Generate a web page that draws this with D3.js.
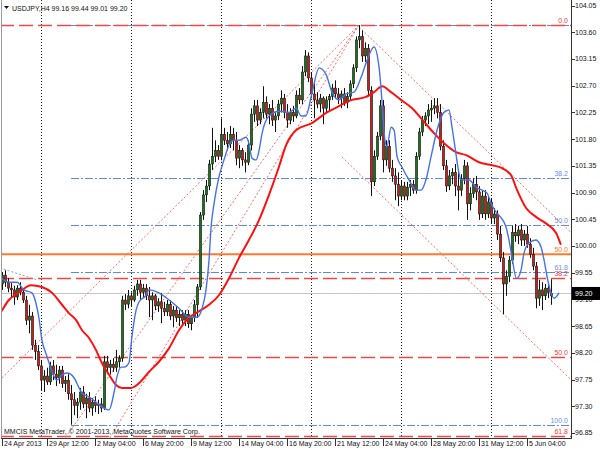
<!DOCTYPE html>
<html><head><meta charset="utf-8">
<script src="https://cdn.jsdelivr.net/npm/d3@7"></script>
<style>
html,body{margin:0;padding:0;background:#fff;}
svg{display:block;font-family:"Liberation Sans",Arial,sans-serif;}
</style></head><body>
<svg id="c" width="600" height="450"></svg>
<script>
// ---------------- DATA ----------------
const symbolTitle = "USDJPY,H4 99.16 99.44 99.01 99.20";
const copyright = "MMCIS MetaTrader, \u00A9 2001-2013, MetaQuotes Software Corp.";

// H4 candles [open, high, low, close]
const ohlc = [
[99.36,99.56,99.26,99.51],[99.51,99.59,99.31,99.39],[99.39,99.46,99.22,99.29],[99.29,99.38,99.14,99.26],
[99.26,99.33,99.01,99.14],[99.14,99.34,99.09,99.29],[99.29,99.39,99.17,99.22],[99.22,99.29,99.04,99.09],
[99.09,99.16,98.67,98.75],[98.75,99.01,98.53,98.82],[98.82,98.89,98.25,98.33],[98.33,98.42,98.08,98.22],
[98.22,98.33,97.91,97.98],[97.98,98.08,97.57,97.74],[97.74,97.91,97.54,97.81],[97.81,97.95,97.66,97.71],
[97.71,98.05,97.66,97.98],[97.98,98.08,97.74,97.84],[97.84,98.00,97.64,97.78],[97.78,97.98,97.68,97.91],
[97.91,97.98,97.61,97.68],[97.68,97.81,97.54,97.74],[97.74,97.84,97.41,97.51],[97.51,97.66,96.99,97.41],
[97.41,97.54,97.15,97.31],[97.31,97.44,97.10,97.37],[97.37,97.61,97.24,97.54],[97.54,97.64,97.27,97.34],
[97.34,97.51,97.10,97.44],[97.44,97.54,97.20,97.27],[97.27,97.44,97.14,97.37],[97.37,97.47,97.20,97.31],
[97.31,97.41,97.17,97.34],[97.34,97.44,97.20,97.27],[97.27,98.15,97.24,98.05],[98.05,98.15,97.84,97.95],
[97.95,98.08,97.84,98.01],[98.01,98.11,97.88,97.95],[97.95,98.25,97.88,98.05],[98.05,98.16,97.95,98.11],
[98.11,99.16,98.05,99.09],[99.09,99.19,98.92,99.02],[99.02,99.26,98.95,99.16],[99.16,99.22,98.99,99.09],
[99.09,99.33,99.06,99.26],[99.26,99.43,99.16,99.36],[99.36,99.43,99.09,99.22],[99.22,99.36,99.12,99.29],
[99.29,99.36,99.09,99.16],[99.16,99.31,98.80,99.09],[99.09,99.22,98.75,99.16],[99.16,99.19,98.92,98.99],
[98.99,99.12,98.89,99.06],[99.06,99.21,98.70,98.95],[98.95,99.06,98.82,98.89],[98.89,99.09,98.82,99.02],
[99.02,99.09,98.75,98.82],[98.82,98.99,98.63,98.92],[98.92,98.99,98.72,98.79],[98.79,98.92,98.65,98.85],
[98.85,98.92,98.69,98.75],[98.75,98.92,98.65,98.85],[98.85,98.92,98.62,98.69],[98.69,98.82,98.58,98.79],
[98.79,99.09,98.72,99.01],[99.01,99.36,98.79,99.31],[99.31,100.57,99.26,100.52],[100.52,100.94,100.44,100.86],
[100.86,101.11,100.74,101.01],[101.01,101.45,100.94,101.38],[101.38,101.99,101.28,101.51],[101.51,101.78,101.41,101.61],
[101.61,101.70,101.45,101.51],[101.51,102.15,101.45,101.88],[101.88,101.99,101.70,101.78],[101.78,101.92,101.61,101.72],
[101.72,102.02,101.65,101.88],[101.88,101.99,101.61,101.78],[101.78,101.92,101.36,101.48],[101.48,101.70,101.31,101.61],
[101.61,101.65,101.35,101.45],[101.45,101.58,101.24,101.41],[101.41,101.78,101.36,101.70],[101.70,102.32,101.61,102.22],
[102.22,102.46,102.09,102.36],[102.36,102.46,102.02,102.12],[102.12,102.32,102.05,102.25],[102.25,102.69,102.15,102.42],
[102.42,102.52,102.15,102.22],[102.22,102.39,102.05,102.32],[102.32,102.46,102.02,102.12],[102.12,102.25,101.92,102.19],
[102.19,102.46,102.12,102.39],[102.39,102.62,102.25,102.49],[102.49,102.56,102.15,102.25],[102.25,102.39,101.99,102.12],
[102.12,102.32,102.05,102.25],[102.25,102.36,102.09,102.19],[102.19,102.62,102.15,102.54],[102.54,102.66,102.39,102.46],
[102.46,103.03,102.39,102.93],[102.93,103.30,102.86,103.20],[103.20,103.26,102.76,102.83],[102.83,102.93,102.49,102.56],
[102.56,102.76,102.15,102.46],[102.46,102.59,102.32,102.39],[102.39,102.56,102.25,102.49],[102.49,102.52,102.05,102.32],
[102.32,102.52,102.25,102.46],[102.46,102.56,102.29,102.52],[102.52,102.73,102.46,102.66],[102.66,102.79,102.49,102.56],
[102.56,102.66,102.39,102.49],[102.49,102.62,102.32,102.56],[102.56,102.66,102.36,102.42],[102.42,102.59,102.32,102.52],
[102.52,102.79,102.46,102.73],[102.73,103.06,102.66,103.00],[103.00,103.53,102.93,103.47],[103.47,103.72,103.33,103.53],
[103.53,103.63,103.10,103.20],[103.20,103.43,103.10,103.33],[103.33,103.40,102.52,102.62],[102.62,102.69,100.84,101.08],
[101.08,101.61,101.01,101.51],[101.51,101.92,101.45,101.85],[101.85,102.46,101.78,102.36],[102.36,102.46,101.24,101.45],
[101.45,101.78,101.35,101.68],[101.68,101.78,101.24,101.31],[101.31,101.45,101.08,101.18],[101.18,101.31,100.77,101.04],
[101.04,101.24,100.67,100.84],[100.84,101.11,100.77,101.01],[101.01,101.08,100.77,100.84],[100.84,101.08,100.77,100.99],
[100.99,101.11,100.84,101.04],[101.04,101.11,100.88,100.94],[100.94,101.58,100.88,101.51],[101.51,101.99,101.45,101.92],
[101.92,102.19,101.85,102.12],[102.12,102.25,102.02,102.19],[102.19,102.39,102.05,102.29],[102.29,102.46,102.09,102.32],
[102.32,102.49,102.22,102.36],[102.36,102.49,102.15,102.25],[102.25,102.39,101.61,101.68],[101.68,101.78,101.28,101.35],
[101.35,101.45,100.91,101.01],[101.01,101.28,100.94,101.18],[101.18,101.31,101.04,101.24],[101.24,101.38,100.84,101.01],
[101.01,101.28,100.60,100.94],[100.94,101.21,100.84,101.14],[101.14,101.45,101.04,101.35],[101.35,101.41,100.44,100.71],
[100.71,100.99,100.60,100.88],[100.88,101.14,100.81,101.04],[101.04,101.18,100.77,100.91],[100.91,101.01,100.44,100.54],
[100.54,100.94,100.47,100.84],[100.84,100.94,100.44,100.54],[100.54,100.84,100.47,100.74],[100.74,100.81,100.37,100.47],
[100.47,100.64,100.37,100.54],[100.54,100.60,100.10,100.20],[100.20,100.34,99.73,99.80],[99.80,99.90,98.85,99.36],
[99.36,99.59,99.16,99.49],[99.49,99.83,99.39,99.76],[99.76,100.34,99.70,100.23],[100.23,100.37,100.07,100.17],
[100.17,100.34,100.03,100.27],[100.27,100.37,100.00,100.10],[100.10,100.27,100.00,100.20],[100.20,100.34,99.97,100.03],
[100.03,100.13,99.80,99.86],[99.86,99.97,99.59,99.66],[99.66,99.73,98.95,99.12],[99.12,99.43,98.99,99.26],
[99.26,99.39,98.92,99.16],[99.16,99.36,99.09,99.29],[99.29,99.36,99.12,99.22],[99.16,99.44,99.01,99.20]
];

// moving averages: [bar, price]
const blueMA = [[-0.3,99.46],[2.3,99.39],[5,99.39],[7.3,99.26],[10,99.21],[11.3,99.04],[12.3,98.79],[13.3,98.42],[14.7,98.18],[15.7,98.03],[16.7,97.88],[18.3,97.74],[20,97.83],[21.7,97.86],[24,97.78],[25.7,97.61],[26.7,97.52],[29,97.46],[31.3,97.37],[33.3,97.29],[35.7,97.24],[37.3,97.52],[38.3,97.79],[39.7,97.96],[40.7,97.96],[42.3,98.03],[43.3,98.47],[44.7,98.92],[45.7,99.06],[48,99.17],[49,99.26],[52.3,99.21],[55.7,99.09],[59,98.95],[62.3,98.80],[65,98.80],[66.7,98.95],[68,99.26],[69,99.76],[69.7,100.32],[70.7,100.72],[72.3,101.16],[74,101.45],[75.7,101.70],[77.3,101.78],[79,101.78],[81.3,101.83],[82.3,101.73],[83.3,101.48],[84.7,101.45],[85.7,101.61],[86.7,101.90],[89,102.19],[92.3,102.27],[95.7,102.25],[98,102.32],[99.7,102.19],[101.3,102.19],[103.3,102.57],[105.7,103.00],[108,102.89],[110,102.59],[112.3,102.46],[114.7,102.56],[117.3,102.59],[119.7,102.84],[121.7,103.13],[124,103.35],[125.7,103.00],[126.7,102.41],[127.3,101.95],[128.3,101.67],[129.7,102.00],[130.7,101.95],[131.7,101.50],[133.3,101.33],[135.7,101.11],[138,100.94],[139.7,100.94],[141.3,101.11],[143,101.50],[145,101.95],[147.3,102.25],[149,102.29],[150,102.00],[151.3,101.56],[152.3,101.23],[153.3,101.11],[155.7,101.11],[158,100.99],[160,100.94],[161.7,100.89],[163,100.72],[164.7,100.57],[166.3,100.48],[168,100.32],[169,100.10],[170,99.81],[171.5,99.45],[173,99.59],[174,99.88],[175.7,100.05],[178,100.10],[179.7,99.98],[180.7,99.76],[181.7,99.48],[183,99.21],[184,99.12],[185.7,99.21]];
const redMA = [[-0.3,98.89],[2.3,99.09],[5.7,99.22],[9.7,99.34],[13.3,99.31],[16.7,99.21],[20,99.01],[22.3,98.87],[24.7,98.75],[26.7,98.58],[29,98.45],[31.3,98.25],[33.3,98.03],[35.7,97.83],[38,97.66],[40,97.61],[43,97.61],[45.7,97.69],[49,97.88],[52.3,98.05],[55.7,98.28],[59,98.58],[62.3,98.79],[65.7,98.90],[69,99.01],[72.3,99.17],[75.7,99.46],[79,99.80],[82.3,100.10],[85.7,100.44],[89,100.86],[92.3,101.33],[94.7,101.70],[98,101.95],[103.3,102.07],[108,102.24],[111.7,102.34],[116.7,102.46],[121.3,102.51],[124,102.59],[126.7,102.69],[129.7,102.59],[133,102.46],[136.7,102.32],[140.7,102.09],[144,101.90],[148,101.70],[151.3,101.58],[154.7,101.53],[159,101.41],[163.3,101.36],[166.7,101.31],[169.7,101.19],[171.7,100.94],[174.7,100.64],[178,100.49],[181.3,100.38],[184.7,100.22],[186.3,100.02]];

// axes
const priceTicks = [104.05,103.60,103.15,102.70,102.25,101.80,101.35,100.90,100.45,100.00,99.55,99.10,98.65,98.20,97.75,97.30,96.85];
const timeLabels = ["24 Apr 2013","29 Apr 12:00","2 May 04:00","6 May 20:00","9 May 12:00","14 May 04:00","16 May 20:00","21 May 12:00","24 May 04:00","28 May 20:00","31 May 12:00","5 Jun 04:00"];
const timeLabelBars = [0,15,31,47,63,79,95,111,127,143,159,175];
const gridBars = [13,43,73,103,133,163];

// fibonacci objects
const redFiboLevels = ["0.0","38.2","50.0","61.8"];
const redFiboPrices = [103.72,99.46,98.13,96.80];
const blueFiboLevels = ["0.0","38.2","50.0","61.8","100.0"];
const blueFiboPrices = [103.72,101.15,100.35,99.56,96.99];
const blueFiboStartBar = 23;
const orangeLevels = ["50.0"];
const orangePrices = [99.86];
const bidPrice = 99.20;

// trend / fan lines: [[bar, price],[bar, price]]
const fanLines = [
  [[119,103.72],[-2,97.68]],
  [[119,103.72],[18.1,96.56]],
  [[119,103.72],[33.5,96.56]]
];
const channelLines = [
  [[119,103.69],[190,100.21]],
  [[113.3,101.50],[190,97.73]]
];
const greyLines = [
  [[-0.7,99.63],[11.7,99.43]],
  [[-0.7,98.89],[2,99.04]]
];

// ---------------- DRAW ----------------
const W = 600, H = 450, L = 0, R = 571, T = 0, B = 438;
const FS = 7;
const x = d3.scaleLinear().domain([0, 183]).range([2, 551]);
const y = d3.scaleLinear().domain([96.85, 104.05]).range([433, 5.5]);

const svg = d3.select("#c");
svg.append("rect").attr("width", W).attr("height", H).attr("fill", "#fff");
svg.append("defs").append("clipPath").attr("id", "plot")
  .append("rect").attr("x", L + 2).attr("y", T).attr("width", R - L - 2).attr("height", B - T);

const g = svg.append("g").attr("clip-path", "url(#plot)");
const py = p => Math.round(y(p)) + 0.5;

// vertical grid
g.selectAll("line.grid").data(gridBars).join("line").attr("class", "grid")
  .attr("x1", d => Math.round(x(d)) + 0.5).attr("x2", d => Math.round(x(d)) + 0.5)
  .attr("y1", T).attr("y2", B)
  .attr("stroke", "#222").attr("stroke-width", 1).attr("stroke-dasharray", "1,2");

// bid line
g.append("line").attr("x1", L).attr("x2", R).attr("y1", py(bidPrice)).attr("y2", py(bidPrice))
  .attr("stroke", "#c6c6c6").attr("stroke-width", 1);

// orange level
g.selectAll("line.or").data(orangePrices).join("line").attr("class", "or")
  .attr("x1", L).attr("x2", R).attr("y1", d => y(d)).attr("y2", d => y(d))
  .attr("stroke", "#ff7a2e").attr("stroke-width", 2);

// blue fibo (dash-dot)
g.selectAll("line.bf").data(blueFiboPrices).join("line").attr("class", "bf")
  .attr("x1", x(blueFiboStartBar)).attr("x2", R).attr("y1", d => py(d)).attr("y2", d => py(d))
  .attr("stroke", "#5f86ee").attr("stroke-width", 1.1).attr("stroke-dasharray", "8,2,2,2");

// red fibo (dashed)
g.selectAll("line.rf").data(redFiboPrices).join("line").attr("class", "rf")
  .attr("x1", L).attr("x2", R).attr("y1", d => py(d)).attr("y2", d => py(d))
  .attr("stroke", "#f04848").attr("stroke-width", 1.4).attr("stroke-dasharray", "14,5");

// dotted trend lines
const seg = d => `M${x(d[0][0])},${y(d[0][1])}L${x(d[1][0])},${y(d[1][1])}`;
g.selectAll("path.fan").data(fanLines.concat(channelLines)).join("path").attr("class", "fan")
  .attr("d", seg).attr("fill", "none").attr("stroke", "#f26d6d").attr("stroke-width", 1)
  .attr("stroke-dasharray", "2,2");
g.selectAll("path.grey").data(greyLines).join("path").attr("class", "grey")
  .attr("d", seg).attr("fill", "none").attr("stroke", "#8fa5a5").attr("stroke-width", 1)
  .attr("stroke-dasharray", "2,2");

// candles
const cg = g.append("g");
cg.selectAll("line.wick").data(ohlc).join("line").attr("class", "wick")
  .attr("x1", (d, i) => x(i) + 0.5).attr("x2", (d, i) => x(i) + 0.5)
  .attr("y1", d => y(d[1])).attr("y2", d => y(d[2]))
  .attr("stroke", "#111").attr("stroke-width", 1);
cg.selectAll("rect.body").data(ohlc).join("rect").attr("class", "body")
  .attr("x", (d, i) => x(i) - 0.7).attr("width", 2.4)
  .attr("y", d => y(Math.max(d[0], d[3])))
  .attr("height", d => Math.max(1, Math.abs(y(d[0]) - y(d[3]))))
  .attr("fill", d => d[3] >= d[0] ? "#1f6f1f" : "#c0231d")
  .attr("stroke", "#111").attr("stroke-width", 0.5);

// moving averages
const line = d3.line().x(d => x(d[0])).y(d => y(d[1])).curve(d3.curveMonotoneX);
g.append("path").datum(redMA).attr("d", line).attr("fill", "none")
  .attr("stroke", "#ff1010").attr("stroke-width", 2);
g.append("path").datum(blueMA).attr("d", line).attr("fill", "none")
  .attr("stroke", "#4472e8").attr("stroke-width", 1.4);

// level labels
const lab = (levels, prices, color, skip) => {
  svg.append("g").selectAll("text").data(levels.map((l, i) => [l, prices[i]]).filter(d => !skip.includes(d[0])))
    .join("text").attr("x", 568).attr("y", d => y(d[1]) - 2)
    .attr("text-anchor", "end").attr("font-size", FS).attr("fill", color).text(d => d[0]);
};
lab(blueFiboLevels, blueFiboPrices, "#6b8ef2", ["0.0"]);
lab(orangeLevels, orangePrices, "#ff7a2e", []);
lab(redFiboLevels, redFiboPrices, "#f43c3c", []);

// frame
svg.append("line").attr("x1", 1.5).attr("x2", 1.5).attr("y1", 0).attr("y2", B).attr("stroke", "#9a9a9a");
svg.append("line").attr("x1", R + 0.5).attr("x2", R + 0.5).attr("y1", 0).attr("y2", B + 1).attr("stroke", "#333");
svg.append("line").attr("x1", 1).attr("x2", R + 1).attr("y1", B + 0.5).attr("y2", B + 0.5).attr("stroke", "#333");

// right price axis
const ya = svg.append("g");
ya.selectAll("line").data(priceTicks).join("line")
  .attr("x1", R).attr("x2", R + 4).attr("y1", d => py(d)).attr("y2", d => py(d)).attr("stroke", "#333");
ya.selectAll("text").data(priceTicks).join("text")
  .attr("x", R + 4).attr("y", d => y(d)).attr("dy", "0.35em")
  .attr("font-size", FS).attr("fill", "#111").text(d => d.toFixed(2));

// current price box
svg.append("rect").attr("x", R + 1).attr("y", y(bidPrice) - 6.5).attr("width", W - R - 1).attr("height", 13).attr("fill", "#000");
svg.append("text").attr("x", R + 4).attr("y", y(bidPrice)).attr("dy", "0.35em")
  .attr("font-size", FS).attr("fill", "#fff").text(bidPrice.toFixed(2));

// time axis
const xa = svg.append("g");
xa.selectAll("line").data(timeLabelBars).join("line")
  .attr("x1", d => Math.round(x(d)) + 0.5).attr("x2", d => Math.round(x(d)) + 0.5)
  .attr("y1", B).attr("y2", B + 8).attr("stroke", "#333");
xa.selectAll("text").data(timeLabels).join("text")
  .attr("x", (d, i) => x(timeLabelBars[i]) + 2).attr("y", B + 8)
  .attr("font-size", FS).attr("fill", "#111").text(d => d);

// header and copyright
svg.append("path").attr("d", "M4,6L9,6L6.5,9Z").attr("fill", "#111");
svg.append("text").attr("x", 12).attr("y", 10.5).attr("font-size", FS).attr("fill", "#111").text(symbolTitle);
svg.append("text").attr("x", 4).attr("y", 434).attr("font-size", FS).attr("fill", "#111").text(copyright);
</script>
</body></html>
